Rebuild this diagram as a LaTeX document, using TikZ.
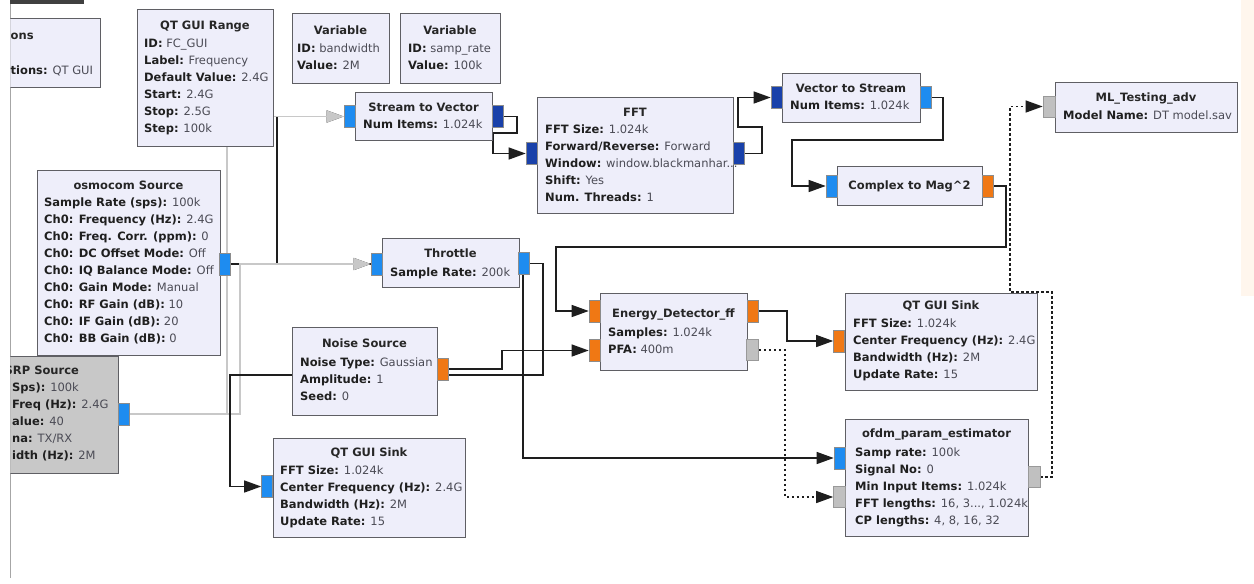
\documentclass[tikz,border=0pt]{standalone}
\usepackage{fontspec}
\setmainfont{DejaVu Sans}
\usetikzlibrary{arrows.meta}
\pgfdeclarelayer{background}
\pgfsetlayers{background,main}
\definecolor{blkfill}{RGB}{238,238,250}
\definecolor{blkdraw}{RGB}{95,95,100}
\definecolor{disfill}{RGB}{200,200,200}
\definecolor{pcx}{RGB}{30,140,240}
\definecolor{pcv}{RGB}{25,65,170}
\definecolor{pfl}{RGB}{240,120,20}
\definecolor{pmsg}{RGB}{192,192,192}
\definecolor{wireblk}{RGB}{30,30,30}
\definecolor{wiregr}{RGB}{200,200,200}
\definecolor{valcol}{RGB}{75,75,85}
\newcommand\kk[1]{\textcolor{black!88}{\bfseries #1}}
\newcommand\ttlfont{\fontsize{11.5}{14}\selectfont\bfseries}
\newcommand\bodyfont{\fontsize{11.5}{17}\selectfont}
\tikzset{
  blk/.style={rectangle, draw=blkdraw, line width=1.2pt, fill=blkfill, inner sep=0pt, anchor=north west},
  dis/.style={blk, fill=disfill},
  ttl/.style={font=\ttlfont, text=black!85, anchor=base, inner sep=0pt},
  body/.style={font=\bodyfont, align=left, anchor=north west, inner sep=0pt, text=valcol},
  port/.style={rectangle, draw=black!45, line width=.6pt, minimum width=11pt, minimum height=22pt, inner sep=0pt},
  pc/.style={port, fill=pcx},
  pv/.style={port, fill=pcv},
  pf/.style={port, fill=pfl},
  pm/.style={port, fill=pmsg, draw=black!40, minimum width=12pt, minimum height=21pt},
  wire/.style={draw=wireblk, line width=1.3pt},
  gwire/.style={draw=wiregr, line width=1.3pt},
  arr/.style={-{Triangle[length=17pt,width=12pt]}},
  msgw/.style={wire, dash pattern=on 2.5pt off 2.5pt}
}
\begin{document}
\begin{tikzpicture}[x=1pt,y=-1pt]
\useasboundingbox (0,0) rectangle (1254,584);
\begin{pgfonlayer}{background}
\fill[white] (0,0) rectangle (1254,584);
\fill[orange!7] (1241,0) rectangle (1254,296);
\draw[black!35, line width=.8pt] (10,0) -- (10,578);
\end{pgfonlayer}
\fill[black!75] (10,0) rectangle (84,3.5);

% clipped blocks at the left edge
\begin{scope}
\clip (10.4,0) rectangle (300,584);
\node[blk, minimum width=100pt, minimum height=69pt] (opt) at (0,18) {};
\node[ttl, anchor=base west] (optT) at (10.5,39.2) {ons};
\node[body] (optB) at (10.5,65.5) {\kk{tions:} QT GUI};
\node[dis, minimum width=118pt, minimum height=117pt] (uhd) at (0,356) {};
\node[ttl, anchor=base west] (uhdT) at (4.5,374.2) {SRP Source};
\node[body] (uhdB) at (12,382.5) {\kk{Sps):} 100k\\\kk{Freq (Hz):} 2.4G\\\kk{alue:} 40\\\kk{na:} TX/RX\\\kk{idth (Hz):} 2M};
\end{scope}
\node[pc] (uhdO) at (123.5,414) {};

% QT GUI Range
\node[blk, minimum width=136pt, minimum height=137pt] (rng) at (137,9) {};
\node[ttl] (rngT) at (205,29.2) {QT GUI Range};
\node[body] (rngB) at (144,38.5) {\kk{ID:} FC\_GUI\\\kk{Label:} Frequency\\\kk{Default Value:} 2.4G\\\kk{Start:} 2.4G\\\kk{Stop:} 2.5G\\\kk{Step:} 100k};

% Variables
\node[blk, minimum width=97pt, minimum height=70pt] (var1) at (292,13) {};
\node[ttl] (var1T) at (340.5,34.2) {Variable};
\node[body] (var1B) at (297,43.5) {\kk{ID:} bandwidth\\\kk{Value:} 2M};
\node[blk, minimum width=100pt, minimum height=70pt] (var2) at (400,13) {};
\node[ttl] (var2T) at (450,34.2) {Variable};
\node[body] (var2B) at (408,43.5) {\kk{ID:} samp\_rate\\\kk{Value:} 100k};

% Stream to Vector
\node[blk, minimum width=137pt, minimum height=48pt] (stv) at (355,92) {};
\node[ttl] (stvT) at (423.5,111.2) {Stream to Vector};
\node[body] (stvB) at (363,119.5) {\kk{Num Items:} 1.024k};
\node[pc] (stvI) at (349.5,116.5) {};
\node[pv] (stvO) at (497.5,116.5) {};

% FFT
\node[blk, minimum width=196pt, minimum height=116pt] (fft) at (537,97) {};
\node[ttl] (fftT) at (635,116.2) {FFT};
\node[body] (fftB) at (545,124.5) {\kk{FFT Size:} 1.024k\\\kk{Forward/Reverse:} Forward\\\kk{Window:} window.blackmanhar...\\\kk{Shift:} Yes\\\kk{Num. Threads:} 1};
\node[pv] (fftI) at (531.5,153.5) {};
\node[pv] (fftO) at (738.5,153.5) {};

% Vector to Stream
\node[blk, minimum width=138pt, minimum height=49pt] (vts) at (782,73) {};
\node[ttl] (vtsT) at (851,92.2) {Vector to Stream};
\node[body] (vtsB) at (790,100.5) {\kk{Num Items:} 1.024k};
\node[pv] (vtsI) at (776.5,97.5) {};
\node[pc] (vtsO) at (925.5,97.5) {};

% Complex to Mag^2
\node[blk, minimum width=145pt, minimum height=39pt] (c2m) at (837,166) {};
\node[ttl] (c2mT) at (909.5,189.2) {Complex to Mag\textasciicircum 2};
\node[pc] (c2mI) at (831.5,186) {};
\node[pf] (c2mO) at (987.5,186) {};

% ML_Testing_adv
\node[blk, minimum width=182pt, minimum height=50pt] (ml) at (1055,82) {};
\node[ttl] (mlT) at (1146,101.2) {ML\_Testing\_adv};
\node[body] (mlB) at (1063,110.5) {\kk{Model Name:} DT model.sav};
\node[pm] (mlI) at (1049,106.5) {};

% osmocom Source
\node[blk, minimum width=183pt, minimum height=185pt] (osm) at (37,170) {};
\node[ttl] (osmT) at (128.5,189.2) {osmocom Source};
\node[body] (osmB) at (44,197.5) {\kk{Sample Rate (sps):} 100k\\\kk{Ch0: Frequency (Hz):} 2.4G\\\kk{Ch0: Freq. Corr. (ppm):} 0\\\kk{Ch0: DC Offset Mode:} Off\\\kk{Ch0: IQ Balance Mode:} Off\\\kk{Ch0: Gain Mode:} Manual\\\kk{Ch0: RF Gain (dB):} 10\\\kk{Ch0: IF Gain (dB):} 20\\\kk{Ch0: BB Gain (dB):} 0};
\node[pc] (osmO) at (225,264) {};

% Throttle
\node[blk, minimum width=137pt, minimum height=49pt] (thr) at (382,238) {};
\node[ttl] (thrT) at (450.5,257.2) {Throttle};
\node[body] (thrB) at (390,267.5) {\kk{Sample Rate:} 200k};
\node[pc] (thrI) at (376.5,264) {};
\node[pc] (thrO) at (524,263.5) {};

% Noise Source
\node[blk, minimum width=145pt, minimum height=88pt] (ns) at (292,327) {};
\node[ttl] (nsT) at (364.5,347.2) {Noise Source};
\node[body] (nsB) at (300,357.5) {\kk{Noise Type:} Gaussian\\\kk{Amplitude:} 1\\\kk{Seed:} 0};
\node[pf] (nsO) at (442.5,369) {};

% QT GUI Sink (bottom)
\node[blk, minimum width=192pt, minimum height=99pt] (qs1) at (273,438) {};
\node[ttl] (qs1T) at (369,456.2) {QT GUI Sink};
\node[body] (qs1B) at (280,465.5) {\kk{FFT Size:} 1.024k\\\kk{Center Frequency (Hz):} 2.4G\\\kk{Bandwidth (Hz):} 2M\\\kk{Update Rate:} 15};
\node[pc] (qs1I) at (267,486.5) {};

% Energy_Detector_ff
\node[blk, minimum width=147pt, minimum height=77pt] (ed) at (600,293) {};
\node[ttl] (edT) at (673.5,317.2) {Energy\_Detector\_ff};
\node[body] (edB) at (608,327.5) {\kk{Samples:} 1.024k\\\kk{PFA:} 400m};
\node[pf] (edI0) at (594.5,311) {};
\node[pf] (edI1) at (594.5,350.5) {};
\node[pf] (edO) at (752.5,311) {};
\node[pm] (edM) at (752.5,350) {};

% QT GUI Sink (right)
\node[blk, minimum width=192pt, minimum height=97pt] (qs2) at (845,293) {};
\node[ttl] (qs2T) at (941,309.2) {QT GUI Sink};
\node[body] (qs2B) at (853,318.5) {\kk{FFT Size:} 1.024k\\\kk{Center Frequency (Hz):} 2.4G\\\kk{Bandwidth (Hz):} 2M\\\kk{Update Rate:} 15};
\node[pf] (qs2I) at (839,341) {};

% ofdm_param_estimator
\node[blk, minimum width=183pt, minimum height=117pt] (of) at (845,419) {};
\node[ttl] (ofT) at (936.5,437.2) {ofdm\_param\_estimator};
\node[body] (ofB) at (855,447.5) {\kk{Samp rate:} 100k\\\kk{Signal No:} 0\\\kk{Min Input Items:} 1.024k\\\kk{FFT lengths:} 16, 3..., 1.024k\\\kk{CP lengths:} 4, 8, 16, 32};
\node[pc] (ofI0) at (839.5,458) {};
\node[pm] (ofI1) at (839.5,497) {};
\node[pm] (ofO) at (1034,477) {};

% connections
\begin{pgfonlayer}{background}
\draw[wire,arr] (osmO.east) -- (277,264) |- (stvI.west);
\draw[wire,arr] (osmO.east) -- (thrI.west);
\draw[wire,arr] (osmO.east) -| (523,458) -- (ofI0.west);
\draw[gwire,arr] (uhdO.east) -| (227,116.5) -- (stvI.west);
\draw[gwire,arr] (uhdO.east) -| (240,264) -- (thrI.west);
\draw[wire,arr] (stvO.east) -- (517,116.5) -- (517,133) -- (493,133) |- (fftI.west);
\draw[wire,arr] (fftO.east) -- (762,153.5) -- (762,127) -- (738,127) |- (vtsI.west);
\draw[wire,arr] (vtsO.east) -- (943,97.5) -- (943,140) -- (792,140) |- (c2mI.west);
\draw[wire,arr] (c2mO.east) -- (1006,186) -- (1006,247) -- (556,247) |- (edI0.west);
\draw[wire,arr] (nsO.east) -| (502,350.5) -- (edI1.west);
\draw[wire,arr] (thrO.east) -- (543,263.5) -- (543,375) -- (230,375) |- (qs1I.west);
\draw[wire,arr] (edO.east) -- (787,311) |- (qs2I.west);
\draw[msgw,arr] (edM.east) -- (785,350) |- (ofI1.west);
\draw[msgw,arr] (ofO.east) -- (1052,477) -- (1052,292) -- (1010,292) |- (mlI.west);
\end{pgfonlayer}
\end{tikzpicture}
\end{document}
